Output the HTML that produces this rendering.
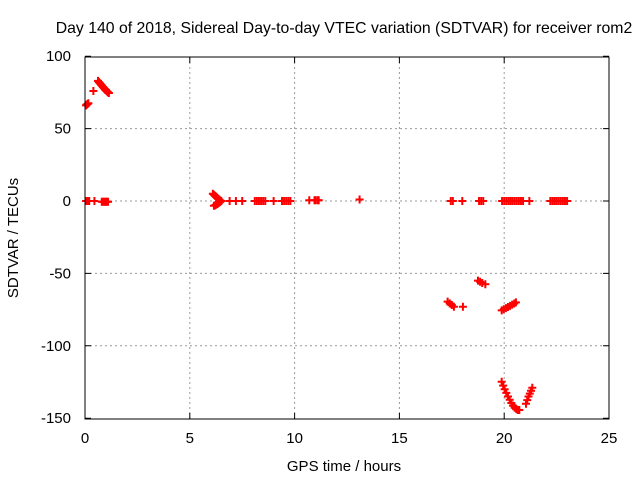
<!DOCTYPE html>
<html><head><meta charset="utf-8"><style>
body{margin:0;background:#fff}
svg text{font-family:"Liberation Sans",sans-serif;font-size:15px;fill:#000}
</style></head><body>
<svg id="chart" width="640" height="480" xmlns="http://www.w3.org/2000/svg">
<rect width="640" height="480" fill="#fff"/>
<text x="344" y="33" text-anchor="middle" style="font-size:15.8px">Day 140 of 2018, Sidereal Day-to-day VTEC variation (SDTVAR) for receiver rom2</text>
<text x="344" y="471" text-anchor="middle">GPS time / hours</text>
<text x="0" y="0" text-anchor="middle" transform="translate(18,238) rotate(-90)">SDTVAR / TECUs</text>
<g id="grid"></g>
<g id="axes"></g>
<g id="points"></g>
<rect x="85" y="57" width="524" height="362" fill="none" stroke="#000" stroke-width="1"/>
</svg>
<script>
const xTicks=[0,5,10,15,20,25];
const yTicks=[100,50,0,-50,-100,-150];
const xs=[0.05,0.08,0.12,0.16,0.4,
0.62,0.66,0.70,0.74,0.78,0.82,0.86,0.90,0.94,0.98,1.02,1.06,1.10,1.14,
0.05,0.1,0.15,0.2,0.45,0.8,0.85,0.9,0.95,1.0,1.05,1.1,
6.1,6.15,6.2,6.25,6.3,6.35,6.4,6.45,6.5,6.45,6.4,6.35,6.3,6.25,6.2,6.15,
6.9,7.2,7.5,8.1,8.2,8.3,8.4,8.5,8.6,9.0,9.4,9.5,9.6,9.7,9.8,10.7,10.95,11.0,11.1,11.15,13.1,
17.45,17.55,18.0,18.8,18.9,19.0,19.9,20.0,20.1,20.2,20.3,20.4,20.5,20.6,20.7,20.8,20.9,21.2,22.2,22.3,22.4,22.5,22.6,22.7,22.8,22.9,23.0,
17.3,17.4,17.5,17.6,18.03,18.75,18.85,18.95,19.1,
19.88,19.98,20.08,20.18,20.28,20.38,20.48,20.56,
19.88,19.95,20.02,20.1,20.18,20.26,20.34,20.42,20.5,20.58,20.66,20.72,
21.04,21.1,21.16,21.22,21.28,21.34];
const ys=[66,66.5,67,67.5,76,
83,82.2,81.5,80.8,80,79.3,78.6,78,77.3,76.7,76.1,75.5,75,74.6,
0,0,0,0,0,-0.5,-0.5,-0.5,-0.5,-0.5,-0.5,-0.5,
5,4.3,3.6,3,2.3,1.6,1,0.4,0,-0.6,-1.2,-1.7,-2.2,-2.6,-3,-3.3,
0,0,0,0,0,0,0,0,0,0,0,0,0,0,0,0.5,0.5,0.5,0.5,0.5,1,
0,0,0,0,0,0,0,0,0,0,0,0,0,0,0,0,0,0,0,0,0,0,0,0,0,0,0,
-69.5,-70.7,-71.8,-73,-73,-55,-55.8,-56.6,-57.5,
-75.5,-74.8,-74,-73.2,-72.4,-71.6,-70.8,-70,
-124.8,-127.5,-130,-132.5,-135,-137.3,-139.5,-141.3,-142.8,-143.8,-144.3,-144.3,
-140,-137.5,-135,-133,-131,-129];
const X=v=>85+v*(524/25);
const Y=v=>201-v*(362/250);
const NS="http://www.w3.org/2000/svg";
const grid=document.getElementById('grid'),axes=document.getElementById('axes'),pts=document.getElementById('points');
function mk(t,a){const e=document.createElementNS(NS,t);for(const k in a)e.setAttribute(k,a[k]);return e;}
xTicks.forEach(t=>{
  const x=X(t);
  if(t>0&&t<25){const g=mk('line',{x1:x,x2:x,y1:57,y2:419,stroke:'#999','stroke-dasharray':'2,3'});
  
  grid.appendChild(g);}
  const tk=mk('path',{d:`M${x},419v-6M${x},57v6`,stroke:'#000'});
  
  axes.appendChild(tk);
  const l=mk('text',{x:x,y:443,'text-anchor':'middle'});l.textContent=t;
  
  axes.appendChild(l);
});
yTicks.forEach(t=>{
  const y=Y(t);
  if(t<100&&t>-150){const g=mk('line',{x1:85,x2:609,y1:y,y2:y,stroke:'#999','stroke-dasharray':'2,3'});
  
  grid.appendChild(g);}
  const tk=mk('path',{d:`M85,${y}h6M609,${y}h-6`,stroke:'#000'});
  
  axes.appendChild(tk);
  const l=mk('text',{x:71,y:y+5,'text-anchor':'end'});l.textContent=t;
  
  axes.appendChild(l);
});
xs.forEach((v,i)=>{
  const x=X(v),y=Y(ys[i]);
  const p=mk('path',{d:`M${x-4},${y}h8M${x},${y-4}v8`,stroke:'#f00','stroke-width':'2'});
  
  
  pts.appendChild(p);
});
</script>
</body></html>
